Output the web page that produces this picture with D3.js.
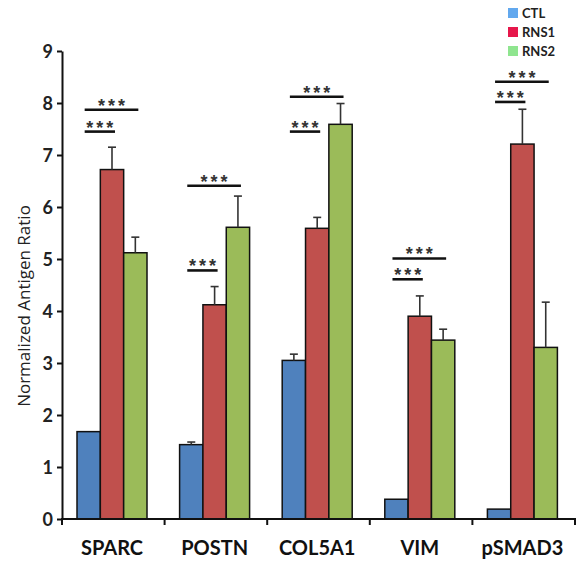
<!DOCTYPE html>
<html><head><meta charset="utf-8">
<script src="https://cdn.jsdelivr.net/npm/d3@7"></script>
<style>body{margin:0;background:#fff}</style>
</head><body>
<svg id="c" width="577" height="575"></svg>
<script>
const categories = ["SPARC","POSTN","COL5A1","VIM","pSMAD3"];
const series = ["CTL","RNS1","RNS2"];
const ctl  = [1.68, 1.43, 3.05, 0.38, 0.19];
const rns1 = [6.72, 4.12, 5.59, 3.90, 7.21];
const rns2 = [5.12, 5.61, 7.59, 3.44, 3.30];
const ctlErr  = [0.00, 0.05, 0.12, 0.00, 0.00];
const rns1Err = [0.43, 0.35, 0.21, 0.39, 0.67];
const rns2Err = [0.30, 0.60, 0.40, 0.21, 0.87];
const yTicks = [0,1,2,3,4,5,6,7,8,9];
// significance: [category, target series, line height in data units]
const sigs = [
  ["SPARC","RNS1",7.45],["SPARC","RNS2",7.87],
  ["POSTN","RNS1",4.78],["POSTN","RNS2",6.41],
  ["COL5A1","RNS1",7.45],["COL5A1","RNS2",8.12],
  ["VIM","RNS1",4.61],["VIM","RNS2",5.01],
  ["pSMAD3","RNS1",8.02],["pSMAD3","RNS2",8.41]
];
const barColors = {CTL:"#4f81bd", RNS1:"#c0504d", RNS2:"#9bbb59"};
const legendColors = {CTL:"#62a8ee", RNS1:"#e6174b", RNS2:"#8fe58f"};

const values = {CTL:ctl, RNS1:rns1, RNS2:rns2};
const errs = {CTL:ctlErr, RNS1:rns1Err, RNS2:rns2Err};

const svg = d3.select("#c");
const x0 = d3.scaleBand().domain(categories).range([62, 575]);
const x1 = d3.scaleBand().domain(series).range([15, 85]);
const y = d3.scaleLinear().domain([0, 9]).range([519, 51]);

const data = [];
categories.forEach((c,i)=>series.forEach(s=>data.push({c, s, v:values[s][i], e:errs[s][i]})));

// bars
svg.append("g").selectAll("rect").data(data).join("rect")
  .attr("x", d=>x0(d.c)+x1(d.s))
  .attr("y", d=>y(d.v))
  .attr("width", x1.bandwidth())
  .attr("height", d=>y(0)-y(d.v))
  .attr("fill", d=>barColors[d.s])
  .attr("stroke", "#111").attr("stroke-width", 1.5);

// error bars
const eb = svg.append("g").attr("stroke","#333").attr("stroke-width",1.6);
data.filter(d=>d.e>0).forEach(d=>{
  const cx = x0(d.c)+x1(d.s)+x1.bandwidth()/2;
  eb.append("line").attr("x1",cx).attr("x2",cx).attr("y1",y(d.v)).attr("y2",y(d.v+d.e));
  eb.append("line").attr("x1",cx-4).attr("x2",cx+4).attr("y1",y(d.v+d.e)).attr("y2",y(d.v+d.e));
});

// axes
const yAxis = svg.append("g").attr("transform","translate(62,0)")
  .call(d3.axisLeft(y).tickValues(yTicks).tickFormat(d3.format("d")).tickSize(5).tickSizeOuter(0));
yAxis.select(".domain").attr("stroke","#111").attr("stroke-width",2);
yAxis.selectAll(".tick line").attr("stroke","#111").attr("stroke-width",2);
yAxis.selectAll(".tick text").attr("x",-9).attr("dy","0.36em")
  .attr("font-family","Lato, 'Open Sans', sans-serif").attr("font-weight","bold")
  .attr("font-size",18).attr("fill","#222");

const xAxis = svg.append("g").attr("transform","translate(0,519)");
xAxis.append("line").attr("x1",61).attr("x2",576).attr("y1",0).attr("y2",0)
  .attr("stroke","#111").attr("stroke-width",2);
const bounds = categories.map(c=>x0(c)).concat([x0.range()[1]]);
xAxis.selectAll(".tk").data(bounds).join("line").attr("class","tk")
  .attr("x1",d=>d).attr("x2",d=>d).attr("y1",0).attr("y2",6)
  .attr("stroke","#111").attr("stroke-width",2);
xAxis.selectAll("text").data(categories).join("text")
  .attr("x",d=>x0(d)+x1.range()[0]+ (x1.range()[1]-x1.range()[0])/2)
  .attr("y",36).attr("text-anchor","middle")
  .attr("font-family","Lato, 'Open Sans', sans-serif").attr("font-weight","bold")
  .attr("font-size",20).attr("fill","#111").text(d=>d);

// y title
svg.append("text").attr("transform","translate(30,306) rotate(-90)")
  .attr("text-anchor","middle")
  .attr("font-family","'Open Sans', Lato, sans-serif")
  .attr("font-size",17).attr("fill","#222").text("Normalized Antigen Ratio");

// significance
const sg = svg.append("g");
sigs.forEach(([c,s,h])=>{
  const xa = x0(c)+x1("CTL")+x1.bandwidth()/2-4;
  const xb = x0(c)+x1(s)+x1.bandwidth()/2+3;
  sg.append("line").attr("x1",xa).attr("x2",xb).attr("y1",y(h)).attr("y2",y(h))
    .attr("stroke","#111").attr("stroke-width",2.6);
  sg.append("text").attr("x",(xa+xb)/2+1.5).attr("y",y(h)+2).attr("text-anchor","middle")
    .attr("font-family","'Liberation Sans', Arial, sans-serif").attr("font-weight","bold")
    .attr("font-size",18).attr("letter-spacing",3).attr("fill","#333").text("***");
});

// legend
const lg = svg.append("g");
series.forEach((s,i)=>{
  const cy = 13 + i*19;
  lg.append("rect").attr("x",508).attr("y",cy-5).attr("width",10).attr("height",10)
    .attr("fill",legendColors[s]);
  lg.append("text").attr("x",522).attr("y",cy).attr("dy","0.36em")
    .attr("font-family","Lato, 'Open Sans', sans-serif").attr("font-weight","bold")
    .attr("font-size",13).attr("fill","#222").text(s);
});
</script>
</body></html>
